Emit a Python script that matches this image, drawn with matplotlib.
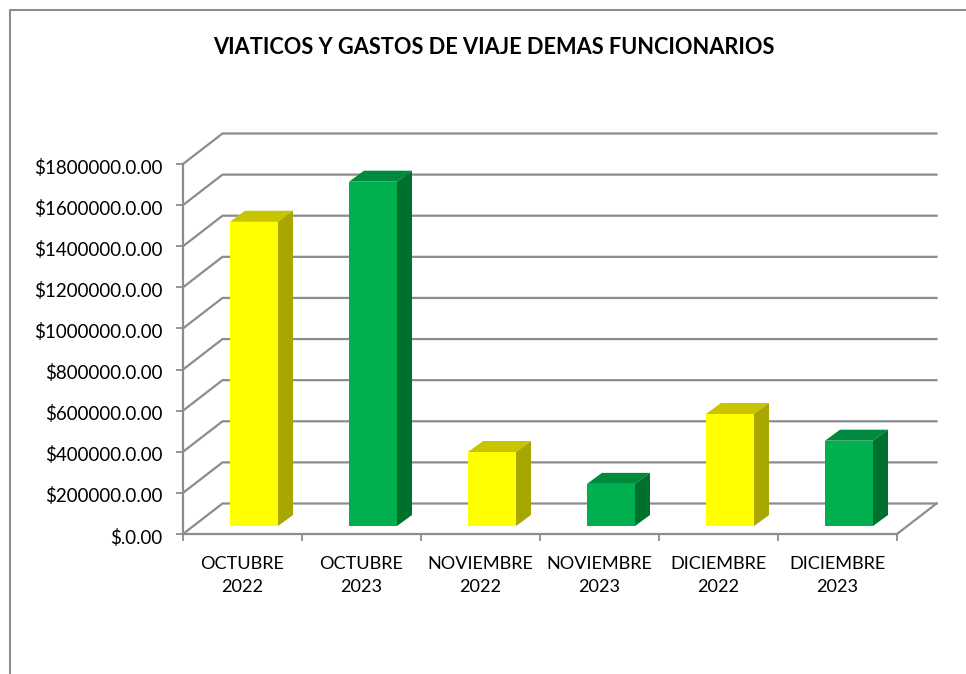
import matplotlib
matplotlib.use('Agg')
import matplotlib.pyplot as plt
from matplotlib.lines import Line2D
from matplotlib.patches import Polygon
from matplotlib.transforms import ScaledTranslation

plt.rcParams['font.family'] = ['Lato', 'DejaVu Sans']

# Datos
categories = ['OCTUBRE\n2022', 'OCTUBRE\n2023', 'NOVIEMBRE\n2022',
              'NOVIEMBRE\n2023', 'DICIEMBRE\n2022', 'DICIEMBRE\n2023']
values = [1480000, 1675000, 360000, 205000, 545000, 415000]
ticks = [0, 200000, 400000, 600000, 800000, 1000000, 1200000, 1400000, 1600000, 1800000]
tick_labels = ['$.0.00', '$200000.0.00', '$400000.0.00', '$600000.0.00', '$800000.0.00',
               '$1000000.0.00', '$1200000.0.00', '$1400000.0.00', '$1600000.0.00', '$1800000.0.00']
title = 'VIATICOS Y GASTOS DE VIAJE DEMAS FUNCIONARIOS'

W, H = 966, 674
x0, x1, y0, y1 = 183, 897, 534, 164  # caja frontal en pixeles

fig = plt.figure(figsize=(W / 100, H / 100), dpi=100)
ax = fig.add_axes([x0 / W, 1 - y0 / H, (x1 - x0) / W, (y0 - y1) / H])
ax.set_xlim(0, len(categories))
ax.set_ylim(0, ticks[-1])
ax.patch.set_visible(False)

# pixeles -> unidades de datos
px = len(categories) / (x1 - x0)
py = ticks[-1] / (y0 - y1)

grey = '#8c8c8c'
wall_dx, wall_dy = 39.5 * px, 30.5 * py

# Paredes: lineas de rejilla en perspectiva
for t in ticks:
    ax.plot([0, wall_dx, len(categories) + wall_dx], [t, t + wall_dy, t + wall_dy],
            color=grey, lw=1.6, clip_on=False, solid_joinstyle='miter', zorder=1)
ax.plot([len(categories), len(categories) + wall_dx], [0, wall_dy],
        color=grey, lw=1.6, clip_on=False, zorder=1)

# Barras 3D
colors = [('#ffff00', '#c8c400', '#a8a600'), ('#00b04f', '#008a3e', '#00702f')]
bar_w = 48 * px
base_dx, base_dy = 47 * px, 8 * py
depth_dx, depth_dy = 15 * px, 11 * py
for i, v in enumerate(values):
    front, top, side = colors[i % 2]
    left = i + base_dx
    right = left + bar_w
    ytop = v + base_dy
    ax.add_patch(Polygon([(left, base_dy), (right, base_dy), (right, ytop), (left, ytop)],
                         fc=front, ec='none', clip_on=False, zorder=3))
    ax.add_patch(Polygon([(left, ytop), (right, ytop), (right + depth_dx, ytop + depth_dy),
                          (left + depth_dx, ytop + depth_dy)],
                         fc=top, ec='none', clip_on=False, zorder=3))
    ax.add_patch(Polygon([(right, base_dy), (right + depth_dx, base_dy + depth_dy),
                          (right + depth_dx, ytop + depth_dy), (right, ytop)],
                         fc=side, ec='none', clip_on=False, zorder=3))

# Ejes
for s in ['top', 'right']:
    ax.spines[s].set_visible(False)
for s in ['left', 'bottom']:
    ax.spines[s].set_color(grey)
    ax.spines[s].set_linewidth(1.6)
ax.set_yticks(ticks)
ax.set_yticklabels(tick_labels)
ax.set_xticks(range(len(categories) + 1))
ax.set_xticklabels([''] * (len(categories) + 1))
ax.tick_params(axis='both', color=grey, width=1.3, length=5, labelsize=13.5, labelcolor='black')
ax.tick_params(axis='y', pad=10)
for lab in ax.get_yticklabels():
    lab.set_transform(lab.get_transform() + ScaledTranslation(0, -2 / 100, fig.dpi_scale_trans))
for i, c in enumerate(categories):
    ax.annotate(c, (i + 0.5, 0), xytext=(0, -15.5), textcoords='offset points', ha='center', va='top',
                fontsize=13.1, linespacing=1.55, annotation_clip=False)

fig.text(494 / W, 1 - 47 / H, title, ha='center', va='center', fontsize=15.7, fontweight='bold')

# Marco del grafico
fig.add_artist(Line2D([10 / W, 10 / W, 1], [0, 1 - 9.5 / H, 1 - 9.5 / H], color=grey, lw=1.5))

fig.savefig('out.png', dpi=100)
